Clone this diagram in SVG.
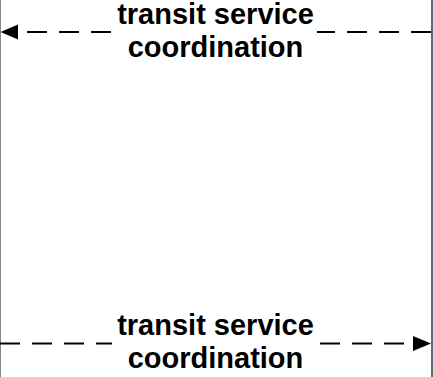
<svg xmlns="http://www.w3.org/2000/svg" width="433" height="377" viewBox="0 0 433 377">
  <style>
    .flow { fill: none; stroke: #000; stroke-width: 2; stroke-dasharray: 20 12; }
    .lbl { font-family: "Liberation Sans", Arial, sans-serif; font-size: 29px; font-weight: bold; fill: #000; text-anchor: middle; }
    .lblbg { fill: #fff; stroke: none; }
  </style>
  <defs>
    <marker id="arrow" viewBox="0 0 10 10" refX="10" refY="5" markerWidth="9" markerHeight="8" markerUnits="userSpaceOnUse" orient="auto" preserveAspectRatio="none">
      <path d="M0,0 L10,5 L0,10 Z" fill="#000"/>
    </marker>
  </defs>
  <rect width="433" height="377" fill="#fff"/>
  <g id="lane-left">
    <line x1="0.5" y1="0" x2="0.5" y2="377" stroke="#858585" stroke-width="1"/>
  </g>
  <g id="lane-right">
    <line x1="432" y1="0" x2="432" y2="377" stroke="#5f6f78" stroke-width="2"/>
  </g>
  <g id="connectors">
    <g id="flow-top">
      <path class="flow" d="M431,32 L18,32"/>
      <path d="M18,24.5 L0.5,32 L18,39.5 Z" fill="#000"/>
      <rect class="lblbg" x="113" y="0" width="204" height="64"/>
      <text class="lbl" x="215.5" y="24">transit service</text>
      <text class="lbl" x="215.5" y="57">coordination</text>
    </g>
    <g id="flow-bottom">
      <path class="flow" d="M0,343.5 L413,343.5"/>
      <path d="M413,336 L431,343.5 L413,351 Z" fill="#000"/>
      <rect class="lblbg" x="112" y="311" width="206" height="66"/>
      <text class="lbl" x="215.5" y="335">transit service</text>
      <text class="lbl" x="215.5" y="368">coordination</text>
    </g>
  </g>
</svg>
